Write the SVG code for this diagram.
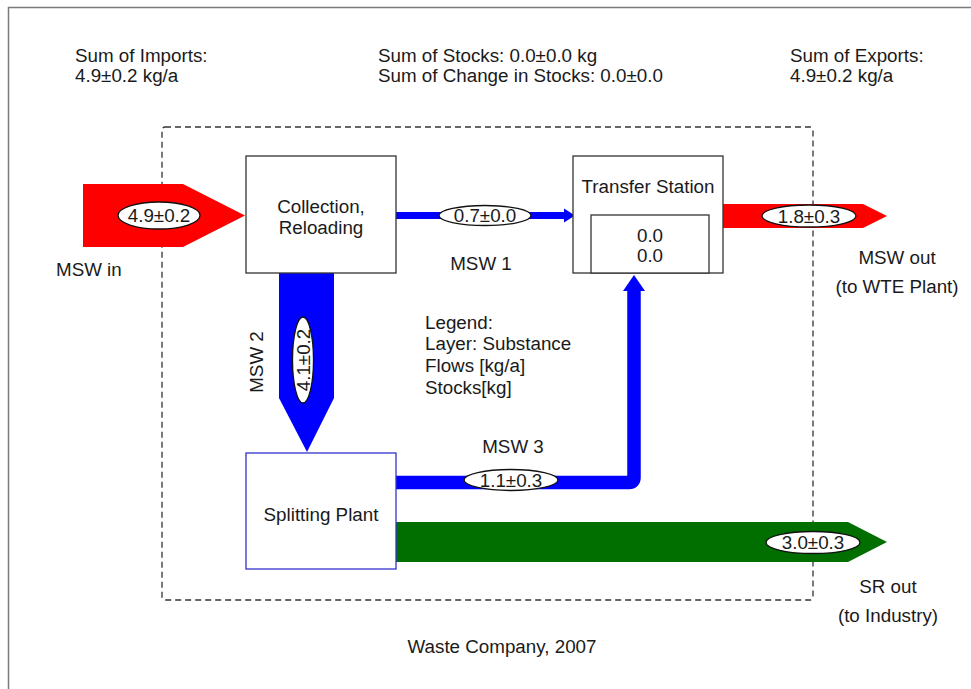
<svg xmlns="http://www.w3.org/2000/svg" width="971" height="689" viewBox="0 0 971 689">
<style>
text{font-family:"Liberation Sans",Arial,sans-serif;font-size:18.8px;fill:#1a1a1a}
.c{text-anchor:middle}
.box{fill:#fff;stroke:#333;stroke-width:1.3}
.lbl{fill:#fff;stroke:#111;stroke-width:1.3}
.red{fill:#ff0000}
.blue{fill:#0000ff}
.green{fill:#006f00}
</style>
<rect width="971" height="689" fill="#fff"/>
<path d="M8.5 689 V7.5 H971" fill="none" stroke="#7a7a7a" stroke-width="1.5"/>
<rect x="162" y="127" width="651" height="473" rx="3" fill="none" stroke="#333" stroke-width="1.3" stroke-dasharray="6,4"/>

<g id="header">
<text x="75" y="62">Sum of Imports:</text>
<text x="75" y="82">4.9±0.2 kg/a</text>
<text x="378" y="62">Sum of Stocks: 0.0±0.0 kg</text>
<text x="378" y="82">Sum of Change in Stocks: 0.0±0.0</text>
<text x="790" y="62">Sum of Exports:</text>
<text x="790" y="82">4.9±0.2 kg/a</text>
</g>

<g id="connectors">
<g id="flow-msw-in">
<polygon class="red" points="83,184 183,184 245,215.5 183,247 83,247"/>
<ellipse class="lbl" cx="159" cy="215.5" rx="41" ry="13.5"/>
<text class="c" x="159" y="222">4.9±0.2</text>
<text x="56" y="276">MSW in</text>
</g>
<g id="flow-msw1">
<rect class="blue" x="396" y="212" width="170" height="7"/>
<polygon class="blue" points="564,208.5 575,215.5 564,222.5"/>
<ellipse class="lbl" cx="485" cy="215.5" rx="46" ry="10"/>
<text class="c" x="485" y="222">0.7±0.0</text>
<text class="c" x="481" y="270">MSW 1</text>
</g>
<g id="flow-msw-out">
<polygon class="red" points="723,204 863,204 887,216 863,228 723,228"/>
<ellipse class="lbl" cx="809" cy="216" rx="47" ry="11"/>
<text class="c" x="809" y="222.5">1.8±0.3</text>
<text class="c" x="897" y="264">MSW out</text>
<text class="c" x="897" y="293">(to WTE Plant)</text>
</g>
<g id="flow-msw2">
<polygon class="blue" points="279,273 334,273 334,398 307,452 279,398"/>
<ellipse class="lbl" cx="303" cy="360" rx="10.5" ry="43"/>
<text class="c" transform="translate(309.5 360) rotate(-90)">4.1±0.2</text>
<text class="c" transform="translate(263 362) rotate(-90)">MSW 2</text>
</g>
<g id="flow-msw3">
<path d="M396 482.5 H629 Q634 482.5 634 477.5 V289" fill="none" stroke="#0000ff" stroke-width="13.5"/>
<polygon class="blue" points="623,291 634,275 645,291"/>
<ellipse class="lbl" cx="511" cy="480" rx="47" ry="10.5"/>
<text class="c" x="511" y="486.5">1.1±0.3</text>
<text class="c" x="513" y="453">MSW 3</text>
</g>
<g id="flow-sr-out">
<polygon class="green" points="396,522 848,522 887,542 848,562 396,562"/>
<ellipse class="lbl" cx="813" cy="542.5" rx="47" ry="11"/>
<text class="c" x="813" y="549">3.0±0.3</text>
<text class="c" x="888" y="593">SR out</text>
<text class="c" x="888" y="622">(to Industry)</text>
</g>
</g>

<g id="collection">
<rect class="box" x="246" y="156" width="150" height="117"/>
<text class="c" x="321" y="213">Collection,</text>
<text class="c" x="321" y="234">Reloading</text>
</g>
<g id="transfer-station">
<rect class="box" x="573" y="156" width="150" height="117"/>
<text class="c" x="648" y="193">Transfer Station</text>
<rect class="box" x="591" y="215" width="118" height="58"/>
<text class="c" x="650" y="242">0.0</text>
<text class="c" x="650" y="262">0.0</text>
</g>
<g id="splitting-plant">
<rect x="246" y="453" width="150" height="116" fill="#fff" stroke="#3333cc" stroke-width="1.3"/>
<text class="c" x="321" y="521">Splitting Plant</text>
</g>

<g id="legend">
<text x="425" y="329">Legend:</text>
<text x="425" y="350">Layer: Substance</text>
<text x="425" y="372">Flows [kg/a]</text>
<text x="425" y="394">Stocks[kg]</text>
</g>
<text class="c" x="502" y="653">Waste Company, 2007</text>
</svg>
